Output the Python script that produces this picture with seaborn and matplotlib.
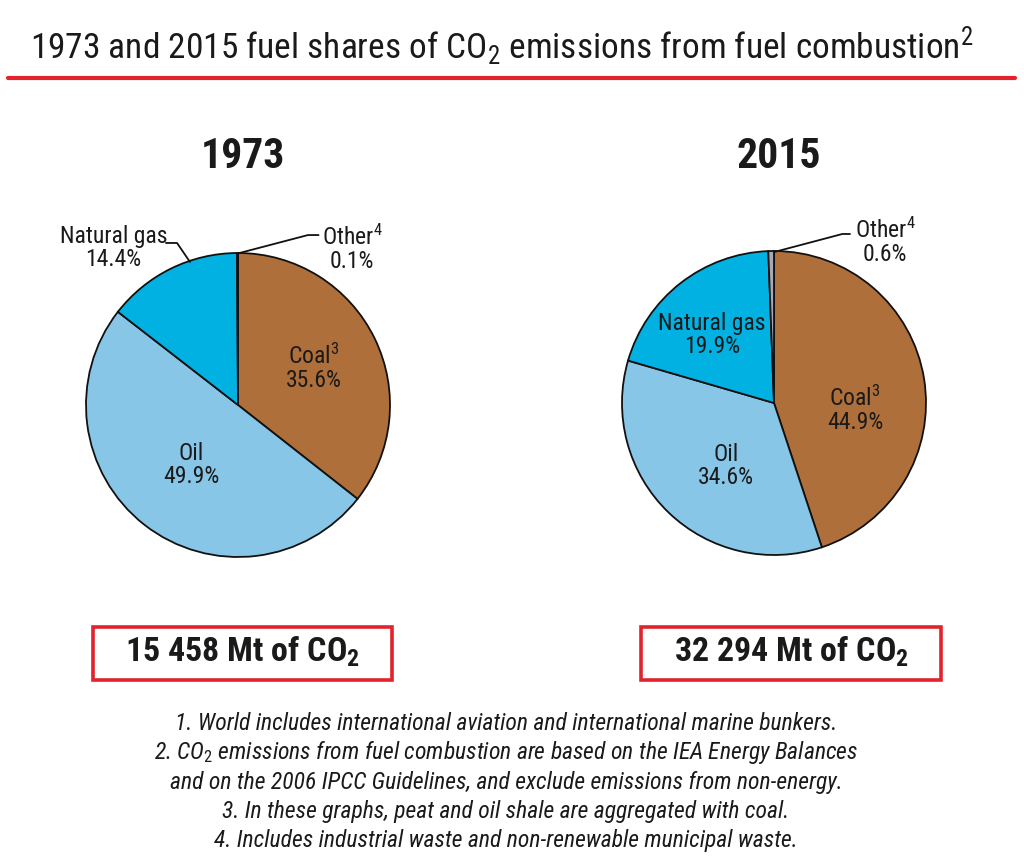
import matplotlib
matplotlib.use('Agg')
import matplotlib.pyplot as plt
import seaborn as sns
from matplotlib import font_manager
from matplotlib.patches import Rectangle
from matplotlib.lines import Line2D

# data
fuels = ['Coal', 'Oil', 'Natural gas', 'Other']
shares_1973 = [35.6, 49.9, 14.4, 0.1]
shares_2015 = [44.9, 34.6, 19.9, 0.6]
totals = {'1973': '15 458', '2015': '32 294'}
fuel_colors = ['#AE6F3B', '#88C6E8', '#00B1E1', '#A8A8B4']

notes = [
    '1. World includes international aviation and international marine bunkers.',
    r'2. CO$_\mathit{2}$ emissions from fuel combustion are based on the IEA Energy Balances',
    'and on the 2006 IPCC Guidelines, and exclude emissions from non-energy.',
    '3. In these graphs, peat and oil shale are aggregated with coal.',
    '4. Includes industrial waste and non-renewable municipal waste.',
]

sns.set_theme(style='white')

# pick a narrow grotesque close to Arial Narrow that has bold and italic faces
faces = {}
for f in font_manager.fontManager.ttflist:
    faces.setdefault(f.name, set()).add((f.style, int(f.weight) >= 600))
narrow = 'Liberation Sans'
for cand in ['Roboto Condensed', 'PT Sans Narrow', 'Archivo Narrow', 'IBM Plex Sans Condensed',
             'Fira Sans Condensed']:
    fs = faces.get(cand, set())
    if ('normal', True) in fs and any(st != 'normal' for st, _ in fs):
        narrow = cand
        break
plt.rcParams['font.family'] = [narrow, 'DejaVu Sans']
plt.rcParams['mathtext.fontset'] = 'custom'
plt.rcParams['mathtext.rm'] = narrow
plt.rcParams['mathtext.it'] = narrow + ':italic'
plt.rcParams['mathtext.bf'] = narrow + ':bold'

W, H = 1024, 868
fig = plt.figure(figsize=(W / 100, H / 100), dpi=100)
fig.patch.set_facecolor('white')
RED = '#E2232B'
INK = '#1a1a1a'
LABEL_FS = 17

def px(x, y):
    return x / W, 1 - y / H

# title + red rule
fig.text(*px(502, 46), r'1973 and 2015 fuel shares of CO$_2$ emissions from fuel combustion$^2$',
         ha='center', va='center', fontsize=25.5, color=INK)
fig.add_artist(Line2D([8 / W, 1015 / W], [1 - 78 / H] * 2, color=RED, lw=3))

R = 152

def draw_pie(cx, cy, shares, year, inside, outside):
    ax = fig.add_axes([(cx - R) / W, (H - cy - R) / H, 2 * R / W, 2 * R / H])
    ax.pie(shares, colors=fuel_colors, startangle=90, counterclock=False, radius=1,
           wedgeprops=dict(edgecolor='#111111', linewidth=1.3))
    ax.set_xlim(-1, 1)
    ax.set_ylim(-1, 1)
    ax.set_aspect('equal')
    ax.axis('off')
    for txt, (x, y) in inside:
        ax.text(x, y, txt, ha='center', va='center', fontsize=LABEL_FS, color=INK,
                linespacing=1.0)
    for txt, (x, y), line in outside:
        ax.text(x, y, txt, ha='center', va='center', fontsize=LABEL_FS, color=INK,
                linespacing=1.0, clip_on=False)
        xs, ys = zip(*line)
        ax.plot(xs, ys, color='#111111', lw=1.3, clip_on=False)
    fig.text(*px(cx + 5, 157), year, ha='center', va='center', fontsize=30,
             fontweight='bold', color=INK)

def s(v):
    return f'{v:.1f}%'

draw_pie(238, 405, shares_1973, '1973',
         inside=[(r'Coal$^{3}$' + '\n' + s(shares_1973[0]), (0.50, 0.243)),
                 ('Oil\n' + s(shares_1973[1]), (-0.309, -0.395))],
         outside=[('Natural gas\n' + s(shares_1973[2]), (-0.82, 1.03),
                   [(-0.474, 1.066), (-0.401, 1.066), (-0.316, 0.941)]),
                  (r'Other$^{4}$' + '\n' + s(shares_1973[3]), (0.75, 1.03),
                   [(0.01, 1.0), (0.46, 1.118), (0.53, 1.118)])])

draw_pie(774, 403, shares_2015, '2015',
         inside=[(r'Coal$^{3}$' + '\n' + s(shares_2015[0]), (0.533, -0.046)),
                 ('Oil\n' + s(shares_2015[1]), (-0.316, -0.414)),
                 ('Natural gas\n' + s(shares_2015[2]), (-0.408, 0.447))],
         outside=[(r'Other$^{4}$' + '\n' + s(shares_2015[3]), (0.73, 1.06),
                   [(0.0, 0.993), (0.45, 1.112), (0.50, 1.112)])])

# totals boxes
for (x0, x1), year in [((93, 392), '1973'), ((641, 941), '2015')]:
    fig.add_artist(Rectangle(px(x0, 680), (x1 - x0) / W, 53 / H, transform=fig.transFigure,
                             facecolor='white', edgecolor=RED, lw=2.6))
    fig.text(*px((x0 + x1) / 2, 652), totals[year] + r' Mt of CO$_\mathbf{2}$',
             ha='center', va='center', fontsize=24.5, fontweight='bold', color=INK)

# footnotes
for i, line in enumerate(notes):
    fig.text(*px(506, 723 + i * 29.5), line, ha='center', va='center', fontsize=17,
             style='italic', color=INK)

fig.savefig('out.png', dpi=100, facecolor='white')
